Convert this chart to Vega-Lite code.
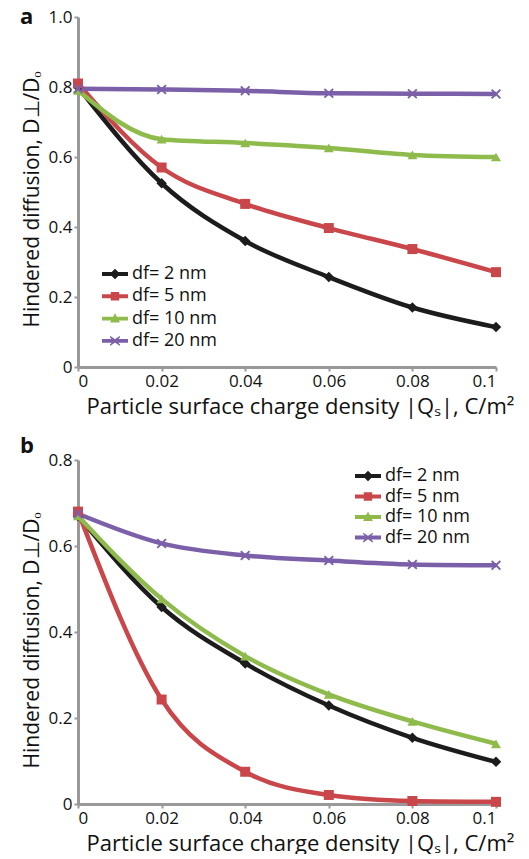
{
  "$schema": "https://vega.github.io/schema/vega-lite/v6.json",
  "background": "white",
  "padding": {"left": 20, "top": 6, "right": 5, "bottom": 0},
  "spacing": 18,
  "config": {
    "font": "Open Sans",
    "view": {"stroke": null},
    "axis": {
      "domainColor": "#999999",
      "domainWidth": 3,
      "tickColor": "#999999",
      "tickWidth": 2,
      "tickSize": 4,
      "grid": false,
      "labelColor": "#111111",
      "labelFontSize": 17,
      "titleColor": "#111111",
      "titleFontSize": 21,
      "titleFontWeight": "normal",
      "labelPadding": 2
    },
    "legend": {
      "labelFontSize": 18,
      "labelColor": "#111111",
      "symbolStrokeWidth": 0,
      "symbolSize": 169,
      "labelOffset": 8
    },
    "title": {"fontSize": 22, "fontWeight": "bold", "color": "#111111"}
  },
  "datasets": {
    "a": [
      {"q": 0, "d": 0.80, "series": "df= 2 nm"},
      {"q": 0.02, "d": 0.525, "series": "df= 2 nm"},
      {"q": 0.04, "d": 0.36, "series": "df= 2 nm"},
      {"q": 0.06, "d": 0.257, "series": "df= 2 nm"},
      {"q": 0.08, "d": 0.170, "series": "df= 2 nm"},
      {"q": 0.1, "d": 0.114, "series": "df= 2 nm"},
      {"q": 0, "d": 0.81, "series": "df= 5 nm"},
      {"q": 0.02, "d": 0.57, "series": "df= 5 nm"},
      {"q": 0.04, "d": 0.466, "series": "df= 5 nm"},
      {"q": 0.06, "d": 0.397, "series": "df= 5 nm"},
      {"q": 0.08, "d": 0.337, "series": "df= 5 nm"},
      {"q": 0.1, "d": 0.271, "series": "df= 5 nm"},
      {"q": 0, "d": 0.79, "series": "df= 10 nm"},
      {"q": 0.02, "d": 0.651, "series": "df= 10 nm"},
      {"q": 0.04, "d": 0.64, "series": "df= 10 nm"},
      {"q": 0.06, "d": 0.626, "series": "df= 10 nm"},
      {"q": 0.08, "d": 0.606, "series": "df= 10 nm"},
      {"q": 0.1, "d": 0.60, "series": "df= 10 nm"},
      {"q": 0, "d": 0.795, "series": "df= 20 nm"},
      {"q": 0.02, "d": 0.793, "series": "df= 20 nm"},
      {"q": 0.04, "d": 0.789, "series": "df= 20 nm"},
      {"q": 0.06, "d": 0.782, "series": "df= 20 nm"},
      {"q": 0.08, "d": 0.781, "series": "df= 20 nm"},
      {"q": 0.1, "d": 0.780, "series": "df= 20 nm"}
    ],
    "b": [
      {"q": 0, "d": 0.67, "series": "df= 2 nm"},
      {"q": 0.02, "d": 0.458, "series": "df= 2 nm"},
      {"q": 0.04, "d": 0.327, "series": "df= 2 nm"},
      {"q": 0.06, "d": 0.229, "series": "df= 2 nm"},
      {"q": 0.08, "d": 0.154, "series": "df= 2 nm"},
      {"q": 0.1, "d": 0.098, "series": "df= 2 nm"},
      {"q": 0, "d": 0.68, "series": "df= 5 nm"},
      {"q": 0.02, "d": 0.243, "series": "df= 5 nm"},
      {"q": 0.04, "d": 0.075, "series": "df= 5 nm"},
      {"q": 0.06, "d": 0.021, "series": "df= 5 nm"},
      {"q": 0.08, "d": 0.007, "series": "df= 5 nm"},
      {"q": 0.1, "d": 0.005, "series": "df= 5 nm"},
      {"q": 0, "d": 0.67, "series": "df= 10 nm"},
      {"q": 0.02, "d": 0.477, "series": "df= 10 nm"},
      {"q": 0.04, "d": 0.344, "series": "df= 10 nm"},
      {"q": 0.06, "d": 0.255, "series": "df= 10 nm"},
      {"q": 0.08, "d": 0.192, "series": "df= 10 nm"},
      {"q": 0.1, "d": 0.14, "series": "df= 10 nm"},
      {"q": 0, "d": 0.675, "series": "df= 20 nm"},
      {"q": 0.02, "d": 0.606, "series": "df= 20 nm"},
      {"q": 0.04, "d": 0.578, "series": "df= 20 nm"},
      {"q": 0.06, "d": 0.566, "series": "df= 20 nm"},
      {"q": 0.08, "d": 0.557, "series": "df= 20 nm"},
      {"q": 0.1, "d": 0.555, "series": "df= 20 nm"}
    ]
  },
  "vconcat": [
    {
      "width": 418,
      "height": 350,
      "title": {"text": "a", "anchor": "start", "frame": "group", "dx": -58, "offset": -21},
      "data": {"name": "a"},
      "encoding": {
        "x": {"field": "q", "type": "quantitative", "scale": {"domain": [0, 0.1], "nice": false},
          "axis": {"values": [0, 0.02, 0.04, 0.06, 0.08, 0.1], "labelExpr": "format(datum.value, '~g')", "title": "Particle surface charge density |Qₛ|, C/m²", "titlePadding": 7, "titleX": 222, "titleFontSize": 22}},
        "y": {"field": "d", "type": "quantitative", "scale": {"domain": [0, 1], "nice": false},
          "axis": {"values": [0, 0.2, 0.4, 0.6, 0.8, 1.0], "labelExpr": "datum.value === 0 ? '0' : format(datum.value, '.1f')", "title": "Hindered diffusion, D⊥/Dₒ", "titlePadding": 6, "titleY": 182}},
        "color": {"field": "series", "type": "nominal", "title": null,
          "scale": {"domain": ["df= 2 nm", "df= 5 nm", "df= 10 nm", "df= 20 nm"], "range": ["#1c1c1c", "#c9474a", "#8fbb4c", "#7b5fa8"]},
          "legend": {"orient": "none", "legendX": 28, "legendY": 248, "rowPadding": 4.3,
            "encode": {"symbols": {"update": {
              "fill": {"signal": "datum.value === 'df= 2 nm' ? '#1c1c1c' : datum.value === 'df= 5 nm' ? '#c9474a' : datum.value === 'df= 10 nm' ? '#8fbb4c' : '#7b5fa8'"},
              "stroke": {"value": "transparent"},
              "opacity": {"value": 1},
              "shape": {"signal": "datum.value === 'df= 2 nm' ? 'M-2,-0.3H-0.5L0,-0.8L0.5,-0.3H2V0.3H0.5L0,0.8L-0.5,0.3H-2Z' : datum.value === 'df= 5 nm' ? 'M-2,-0.3H-0.65V-0.65H0.65V-0.3H2V0.3H0.65V0.65H-0.65V0.3H-2Z' : datum.value === 'df= 10 nm' ? 'M-2,-0.3H-0.28L0,-0.85L0.28,-0.3H2V0.3H0.6L0.75,0.6H-0.75L-0.6,0.3H-2Z' : 'M-2,-0.3H2V0.3H-2Z M-0.7,-0.75L0,-0.25L0.7,-0.75L0.8,-0.6L0.25,0L0.8,0.6L0.7,0.75L0,0.25L-0.7,0.75L-0.8,0.6L-0.25,0L-0.8,-0.6Z'"}}}}}}
      },
      "layer": [
        {"mark": {"type": "line", "interpolate": "monotone", "strokeWidth": 4.5}},
        {"transform": [{"filter": "datum.series === 'df= 2 nm'"}], "mark": {"type": "point", "filled": true, "opacity": 1, "size": 110, "shape": "diamond"}},
        {"transform": [{"filter": "datum.series === 'df= 5 nm'"}], "mark": {"type": "point", "filled": true, "opacity": 1, "size": 100, "shape": "square"}},
        {"transform": [{"filter": "datum.series === 'df= 10 nm'"}], "mark": {"type": "point", "filled": true, "opacity": 1, "size": 100, "shape": "triangle-up"}},
        {"transform": [{"filter": "datum.series === 'df= 20 nm'"}], "mark": {"type": "point", "filled": true, "opacity": 1, "size": 100, "shape": "M-0.75,-1L0,-0.3L0.75,-1L1,-0.75L0.3,0L1,0.75L0.75,1L0,0.3L-0.75,1L-1,0.75L-0.3,0L-1,-0.75Z"}}
      ]
    },
    {
      "width": 418,
      "height": 344,
      "title": {"text": "b", "anchor": "start", "frame": "group", "dx": -58, "offset": -7},
      "data": {"name": "b"},
      "encoding": {
        "x": {"field": "q", "type": "quantitative", "scale": {"domain": [0, 0.1], "nice": false},
          "axis": {"values": [0, 0.02, 0.04, 0.06, 0.08, 0.1], "labelExpr": "format(datum.value, '~g')", "title": "Particle surface charge density |Qₛ|, C/m²", "titlePadding": 7, "titleX": 222, "titleFontSize": 22}},
        "y": {"field": "d", "type": "quantitative", "scale": {"domain": [0, 0.8], "nice": false},
          "axis": {"values": [0, 0.2, 0.4, 0.6, 0.8], "labelExpr": "datum.value === 0 ? '0' : format(datum.value, '.1f')", "title": "Hindered diffusion, D⊥/Dₒ", "titlePadding": 6, "titleY": 180}},
        "color": {"field": "series", "type": "nominal", "title": null,
          "scale": {"domain": ["df= 2 nm", "df= 5 nm", "df= 10 nm", "df= 20 nm"], "range": ["#1c1c1c", "#c9474a", "#8fbb4c", "#7b5fa8"]},
          "legend": {"orient": "none", "legendX": 281, "legendY": 7, "rowPadding": 2.5,
            "encode": {"symbols": {"update": {
              "fill": {"signal": "datum.value === 'df= 2 nm' ? '#1c1c1c' : datum.value === 'df= 5 nm' ? '#c9474a' : datum.value === 'df= 10 nm' ? '#8fbb4c' : '#7b5fa8'"},
              "stroke": {"value": "transparent"},
              "opacity": {"value": 1},
              "shape": {"signal": "datum.value === 'df= 2 nm' ? 'M-2,-0.3H-0.5L0,-0.8L0.5,-0.3H2V0.3H0.5L0,0.8L-0.5,0.3H-2Z' : datum.value === 'df= 5 nm' ? 'M-2,-0.3H-0.65V-0.65H0.65V-0.3H2V0.3H0.65V0.65H-0.65V0.3H-2Z' : datum.value === 'df= 10 nm' ? 'M-2,-0.3H-0.28L0,-0.85L0.28,-0.3H2V0.3H0.6L0.75,0.6H-0.75L-0.6,0.3H-2Z' : 'M-2,-0.3H2V0.3H-2Z M-0.7,-0.75L0,-0.25L0.7,-0.75L0.8,-0.6L0.25,0L0.8,0.6L0.7,0.75L0,0.25L-0.7,0.75L-0.8,0.6L-0.25,0L-0.8,-0.6Z'"}}}}}}
      },
      "layer": [
        {"mark": {"type": "line", "interpolate": "monotone", "strokeWidth": 4.5}},
        {"transform": [{"filter": "datum.series === 'df= 2 nm'"}], "mark": {"type": "point", "filled": true, "opacity": 1, "size": 110, "shape": "diamond"}},
        {"transform": [{"filter": "datum.series === 'df= 5 nm'"}], "mark": {"type": "point", "filled": true, "opacity": 1, "size": 100, "shape": "square"}},
        {"transform": [{"filter": "datum.series === 'df= 10 nm'"}], "mark": {"type": "point", "filled": true, "opacity": 1, "size": 100, "shape": "triangle-up"}},
        {"transform": [{"filter": "datum.series === 'df= 20 nm'"}], "mark": {"type": "point", "filled": true, "opacity": 1, "size": 100, "shape": "M-0.75,-1L0,-0.3L0.75,-1L1,-0.75L0.3,0L1,0.75L0.75,1L0,0.3L-0.75,1L-1,0.75L-0.3,0L-1,-0.75Z"}}
      ]
    }
  ],
  "resolve": {"scale": {"color": "independent"}, "legend": {"color": "independent"}}
}
